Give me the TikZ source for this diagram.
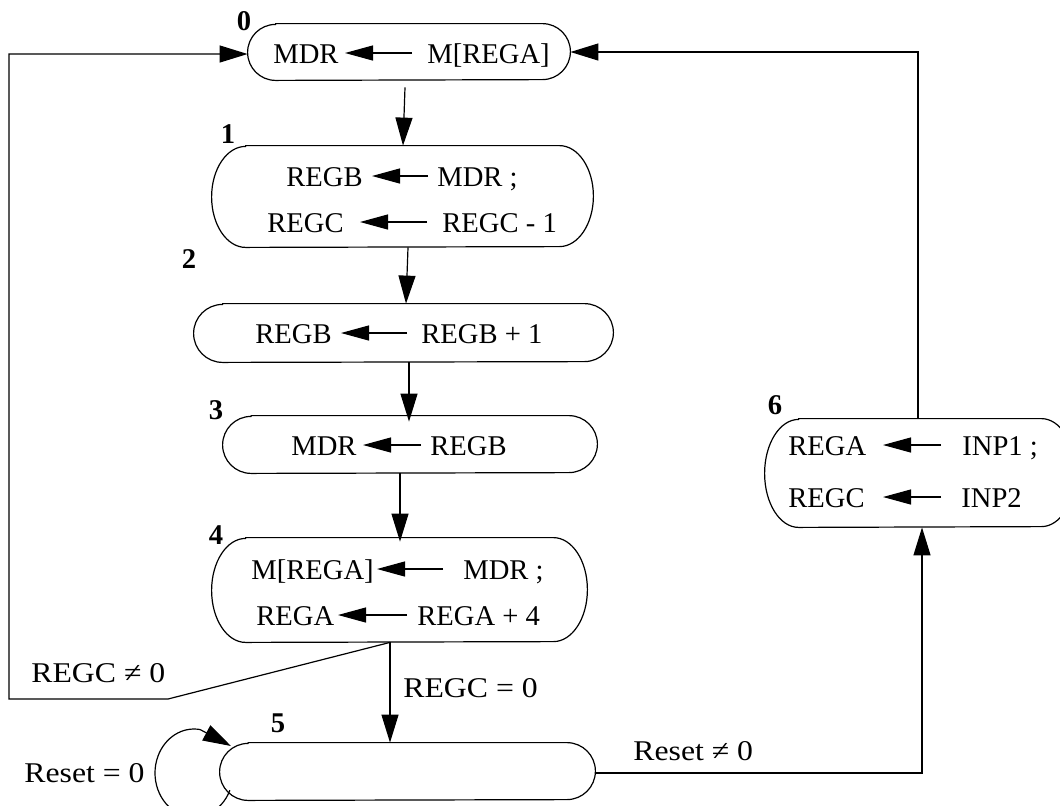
\documentclass[tikz,border=0pt]{standalone}
\usepackage{fontspec}
\setmainfont{Liberation Serif}
\usetikzlibrary{arrows.meta,calc}

% one drawing unit
\newdimen\px \px=0.5pt

\tikzset{
  wire/.style={line width=0.6pt, line join=miter},
  conn/.style={wire, -{Triangle[length=14pt,width=8.5pt]}},
  inarr/.style={wire, -{Triangle[length=14pt,width=7.5pt]}},
  txt/.style={inner sep=0pt, font=\fontsize{14.3}{17}\selectfont},
  num/.style={inner sep=0pt, font=\fontsize{14.3}{17}\selectfont\bfseries},
  holder/.style={inner sep=0pt, draw=none, rectangle},
  boxline/.style={wire},
}

% condition labels are set a little wider
\newcommand\cond[1]{\scalebox{1.11}[1]{#1}}

% state box with rounded (elliptic) ends: name, cx, cy, width, height, end radius
\newcommand\capsule[6]{%
  \node[holder, minimum width=#4\px, minimum height=#5\px] (#1) at (#2,-#3) {};
  \draw[boxline] ([xshift=#6\px]#1.north west) -- ([xshift=-#6\px]#1.north east)
    arc[start angle=90, end angle=-90, x radius=#6, y radius={#5/2}]
    -- ([xshift=#6\px]#1.south west)
    arc[start angle=270, end angle=90, x radius=#6, y radius={#5/2}] -- cycle;
}

% register transfer "left <- right": prefix, baseline, left x, left text,
% arrow tip x, arrow tail x, right x, right text
\newcommand\assign[8]{%
  \node[txt, anchor=base west] (#1l) at (#3,-#2) {#4};
  \node[txt, anchor=base west] (#1r) at (#7,-#2) {#8};
  \draw[inarr] ($(#1r.base west)+({#6-#7},10)$) -- ($(#1l.base west)+({#5-#3},10)$);
}

\begin{document}
\begin{tikzpicture}[x=0.5pt,y=0.5pt]
\useasboundingbox (0,0) rectangle (1060,-805);
\clip (0,0) rectangle (1060,-805);

% states
\capsule{s0}{409}{52}{322}{56}{28}
\capsule{s1}{402.5}{196.5}{381}{101}{34}
\capsule{s2}{403.5}{333}{419}{58}{29}
\capsule{s3}{410}{444.5}{374}{57}{28.5}
\capsule{s4}{399.5}{590}{375}{104}{34}
\capsule{s5}{407.5}{771.5}{375}{57}{28.5}
\capsule{s6}{920}{473}{310}{108}{34}

% state numbers
\node[num] (n0) at (244,-21) {0};
\node[num] (n1) at (228,-134) {1};
\node[num] (n2) at (189,-259) {2};
\node[num] (n3) at (216,-410) {3};
\node[num] (n4) at (216,-535) {4};
\node[num] (n5) at (278,-723) {5};
\node[num] (n6) at (775,-405) {6};

% transfers inside the states
\assign{a0}{63}{273}{MDR}{345}{412}{427}{M[REGA]}
\assign{a1}{186}{286}{REGB}{372}{428}{437}{MDR ;}
\assign{a2}{232}{267}{REGC}{360}{427}{442}{REGC - 1}
\assign{a3}{343}{255}{REGB}{341}{407}{421}{REGB + 1}
\assign{a4}{455}{291}{MDR}{363}{421}{430}{REGB}
\assign{a5}{579}{251}{M[REGA]}{377}{443}{463}{MDR ;}
\assign{a6}{625}{256}{REGA}{338}{407}{417}{REGA + 4}
\assign{a7}{455}{788}{REGA}{883}{941}{962}{INP1 ;}
\assign{a8}{507}{788}{REGC}{883}{941}{961}{INP2}

% main sequence
\draw[conn] ([shift={(-4,-7)}]s0.south) -- ([xshift=-2\px]s1.north -| 405,0);
\draw[conn] ([xshift=5.5\px]s1.south) -- ([xshift=2.5\px]s2.north);
\draw[conn] ([xshift=5.5\px]s2.south) -- ([shift={(-1,-6)}]s3.north);
\draw[conn] ([xshift=-10\px]s3.south) -- ([shift={(0.5,-4)}]s4.north);

% branch after state 4
\coordinate (split) at ([xshift=-9.5\px]s4.south);
\coordinate (k1) at (168,-699);
\coordinate (k2) at (9,-699);
\draw[conn] (split) -- ([xshift=-17.5\px]s5.north);
\node[txt, anchor=base west] (c0) at (403,-697) {\cond{REGC = 0}};
\draw[conn] (split) -- (k1) -- (k2) |- ([yshift=-2\px]s0.west);
\node[txt, anchor=base west] (c1) at (31,-682) {\cond{REGC ≠ 0}};

% state 5 transitions: self loop and exit to state 6
\coordinate (lc) at (194,-773);
\coordinate (lt) at (231,-746);
\draw[wire] (lc) ++({39*cos(-23)},{44*sin(-23)})
  arc[start angle=-23, end angle=-279, x radius=39, y radius=44] coordinate (le);
\draw[conn] (le) -- (lt);
\node[txt, anchor=base west] (r0) at (24,-782) {\cond{Reset = 0}};
\draw[conn] ([yshift=-1.5\px]s5.east) -| ([xshift=2\px]s6.south);
\node[txt, anchor=base west] (r1) at (633,-760) {\cond{Reset ≠ 0}};

% back to state 0
\draw[conn] ([xshift=-2\px]s6.north) |- (s0.east);
\end{tikzpicture}
\end{document}
